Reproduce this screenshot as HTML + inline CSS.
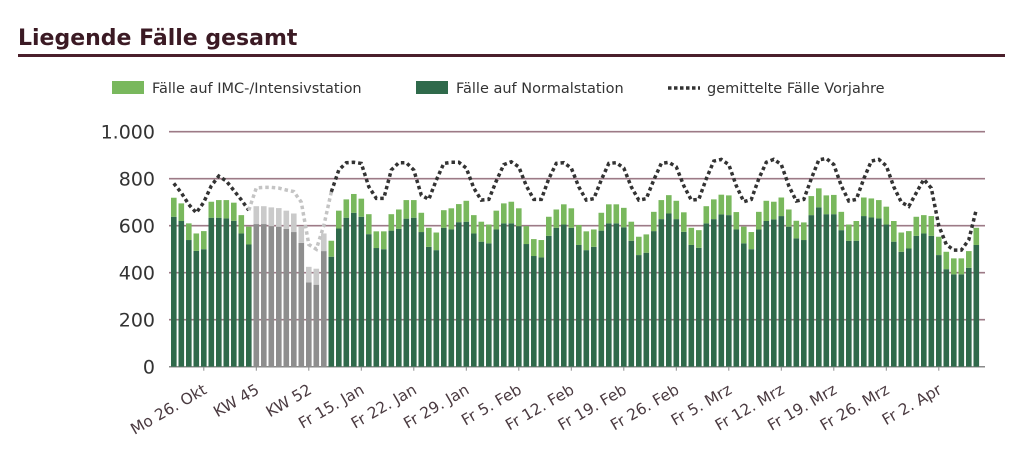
<!DOCTYPE html>
<html><head><meta charset="utf-8"><style>
body{margin:0;background:#fff;width:1024px;height:463px;overflow:hidden;font-family:"Liberation Sans",sans-serif}
</style></head><body>
<svg id="chart" width="1024" height="463" xmlns="http://www.w3.org/2000/svg">
<text x="18" y="45" font-family="DejaVu Sans, sans-serif" font-weight="bold" font-size="22" fill="#3b1a24">Liegende Fälle gesamt</text>
<rect x="18" y="54" width="987" height="3" fill="#4a1f2b"/>
<g font-family="DejaVu Sans, sans-serif" font-size="14.5" fill="#333">
<rect x="112" y="81" width="32" height="13" fill="#79b85d"/>
<text x="152" y="93">Fälle auf IMC-/Intensivstation</text>
<rect x="416" y="81" width="32" height="13" fill="#2f6a4b"/>
<text x="456" y="93">Fälle auf Normalstation</text>
<line x1="668" y1="88" x2="700" y2="88" stroke="#333" stroke-width="3.5" stroke-dasharray="3.5 2.5"/>
<text x="707" y="93">gemittelte Fälle Vorjahre</text>
</g>
<g id="plot"></g>
</svg>
<script>
const normal=[638,620,539,493,500,634,634,631,621,567,520,607,607,598,596,586,573,527,359,349,492,468,588,634,655,638,564,505,500,579,587,630,634,573,510,496,591,584,615,617,567,532,525,584,610,610,598,522,471,465,557,591,605,591,518,496,510,579,610,610,593,536,475,485,577,628,652,628,574,518,506,610,628,648,645,584,525,500,584,620,627,641,596,546,539,645,678,649,649,581,536,536,641,635,631,605,532,489,503,557,567,557,475,415,393,393,421,518];
const total=[719,695,610,567,577,702,709,709,698,645,596,683,683,678,675,664,652,598,425,417,567,536,664,712,735,715,649,576,576,649,669,709,709,655,591,571,666,674,692,706,645,617,605,664,695,702,674,598,543,539,638,669,691,674,603,576,584,655,691,691,676,617,553,563,659,709,730,706,657,591,581,683,712,732,729,658,596,573,659,706,702,720,669,621,614,726,759,729,731,659,605,620,720,716,709,681,620,571,577,638,645,641,553,489,461,461,492,591];
const avg=[780,740,690,655,700,770,811,790,750,710,666,761,763,763,760,752,745,700,520,500,600,744,837,868,870,865,766,716,716,837,868,868,837,730,712,794,865,870,870,845,760,709,712,790,860,872,850,770,712,712,800,865,868,845,765,709,715,795,865,868,845,765,709,715,795,865,870,850,770,709,712,800,875,882,860,770,702,712,800,870,882,860,770,705,712,800,880,886,860,770,705,712,800,875,882,855,765,700,682,740,797,760,600,520,496,496,540,669];
const grayIdx=[11,12,13,14,15,16,17,18,19,20];
const yTicks=[0,200,400,600,800,1000];
const yTickLabels=["0","200","400","600","800","1.000"];
const xTickIdx=[4,11,18,25,32,39,46,53,60,67,74,81,88,95,102];
const xTickLabels=["Mo 26. Okt","KW 45","KW 52","Fr 15. Jan","Fr 22. Jan","Fr 29. Jan","Fr 5. Feb","Fr 12. Feb","Fr 19. Feb","Fr 26. Feb","Fr 5. Mrz","Fr 12. Mrz","Fr 19. Mrz","Fr 26. Mrz","Fr 2. Apr"];

const NS="http://www.w3.org/2000/svg";
const plot=document.getElementById('plot');
const X0=171,PITCH=7.5,BW=5.6,Y0=366.7,Y1=131.7,XEND=985;
const y=v=>Y0-(Y0-Y1)*v/1000;
const xc=i=>X0+PITCH*i+BW/2;
function mk(t,a){const e=document.createElementNS(NS,t);for(const k in a)e.setAttribute(k,a[k]);plot.appendChild(e);return e;}
yTicks.forEach((v,k)=>{
 const g=mk('line',{x1:X0-2,x2:XEND,y1:y(v),y2:y(v),stroke:v===0?'#8a8a8a':'#9c7a86','stroke-width':v===0?1.5:1.6});
 
 
 const t=mk('text',{x:155,y:y(v)+7,'text-anchor':'end','font-size':19,fill:'#333','font-family':'DejaVu Sans, sans-serif'});
 t.textContent=yTickLabels[k];
 
 
});
normal.forEach((n,i)=>{
 const gray=grayIdx.includes(i);
 const x=X0+PITCH*i;
 const r1=mk('rect',{x:x,y:y(n),width:BW,height:Y0-y(n),fill:gray?'#8e8e8e':'#2f6a4b'});
 
 
 const r2=mk('rect',{x:x,y:y(total[i]),width:BW,height:y(n)-y(total[i]),fill:gray?'#cacaca':'#79b85d'});
 
 
});
function path(from,to){let d='';for(let i=from;i<=to;i++)d+=(i===from?'M':'L')+xc(i).toFixed(1)+','+y(avg[i]).toFixed(1);return d;}
const pA=mk('path',{d:path(0,10),fill:'none',stroke:'#333','stroke-width':3.5,'stroke-dasharray':'3.5 3'});


const pG=mk('path',{d:path(10,21),fill:'none',stroke:'#c4c4c4','stroke-width':3.5,'stroke-dasharray':'3.5 3'});


const pB=mk('path',{d:path(21,avg.length-1),fill:'none',stroke:'#333','stroke-width':3.5,'stroke-dasharray':'3.5 3'});


xTickIdx.forEach((idx,k)=>{
 const tx=xc(idx);
 const tk=mk('line',{x1:tx,x2:tx,y1:Y0,y2:Y0+4,stroke:'#8a8a8a','stroke-width':1});
 
 
 const t=mk('text',{x:0,y:0,'text-anchor':'end','font-size':15.5,fill:'#4a3a40','font-family':'DejaVu Sans, sans-serif',transform:`translate(${tx+4},${Y0+26}) rotate(-30)`});
 t.textContent=xTickLabels[k];
 
 
});
</script>
</body></html>
